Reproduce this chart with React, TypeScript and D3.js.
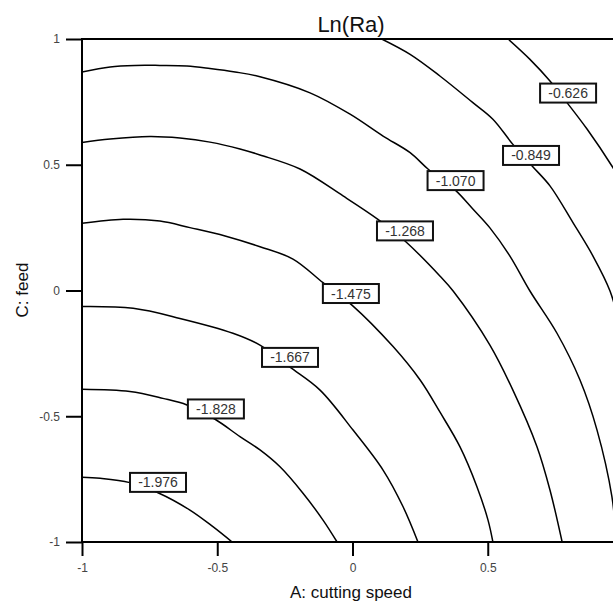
import React, { useRef, useEffect } from "react";
import * as d3 from "d3";

// Contour levels (Ln(Ra)) and their traced paths in data units [A: cutting speed, C: feed]
const levels = ["-1.976", "-1.828", "-1.667", "-1.475", "-1.268", "-1.070", "-0.849", "-0.626"];

const contour1976: [number, number][] = [
  [-1, -0.743], [-0.933, -0.747], [-0.823, -0.764], [-0.719, -0.804], [-0.601, -0.873], [-0.516, -0.939], [-0.445, -1.0],
];
const contour1828: [number, number][] = [
  [-1, -0.393], [-0.823, -0.402], [-0.701, -0.429], [-0.612, -0.455], [-0.508, -0.512], [-0.416, -0.581],
  [-0.342, -0.634], [-0.268, -0.701], [-0.183, -0.806], [-0.109, -0.913], [-0.057, -1.0],
];
const contour1667: [number, number][] = [
  [-1, -0.064], [-0.811, -0.071], [-0.638, -0.111], [-0.442, -0.17], [-0.342, -0.217], [-0.231, -0.305],
  [-0.12, -0.396], [0.002, -0.555], [0.113, -0.714], [0.187, -0.86], [0.242, -1.0],
];
const contour1475: [number, number][] = [
  [-1, 0.267], [-0.848, 0.283], [-0.712, 0.276], [-0.601, 0.25], [-0.471, 0.217], [-0.342, 0.174],
  [-0.22, 0.125], [-0.109, 0.031], [-0.002, -0.058], [0.15, -0.223], [0.25, -0.356], [0.323, -0.483],
  [0.397, -0.621], [0.46, -0.78], [0.501, -0.913], [0.519, -1.0],
];
const contour1268: [number, number][] = [
  [-1, 0.588], [-0.896, 0.602], [-0.749, 0.612], [-0.638, 0.606], [-0.527, 0.59], [-0.416, 0.563],
  [-0.342, 0.539], [-0.194, 0.483], [-0.035, 0.376], [0.094, 0.283], [0.194, 0.197], [0.323, 0.058],
  [0.372, -0.002], [0.508, -0.217], [0.593, -0.396], [0.682, -0.621], [0.73, -0.793], [0.775, -1.0],
];
const contour1070: [number, number][] = [
  [-1, 0.869], [-0.896, 0.889], [-0.804, 0.895], [-0.712, 0.895], [-0.612, 0.893], [-0.527, 0.883],
  [-0.434, 0.869], [-0.342, 0.85], [-0.157, 0.786], [-0.009, 0.701], [0.113, 0.614], [0.213, 0.548],
  [0.279, 0.483], [0.379, 0.4], [0.445, 0.324], [0.508, 0.249], [0.582, 0.137], [0.656, -0.002],
  [0.756, -0.17], [0.841, -0.356], [0.904, -0.555], [0.959, -0.82], [0.975, -1.0],
];
const contour0849: [number, number][] = [
  [0.108, 1.0], [0.213, 0.939], [0.323, 0.853], [0.445, 0.747], [0.519, 0.681], [0.593, 0.581],
  [0.664, 0.495], [0.73, 0.416], [0.815, 0.27], [0.889, 0.137], [0.952, -0.002], [0.99, -0.15],
];
const contour0626: [number, number][] = [
  [0.575, 1.0], [0.656, 0.919], [0.73, 0.833], [0.793, 0.747], [0.867, 0.642], [0.959, 0.495], [1.0, 0.42],
];
const contourPaths = [contour1976, contour1828, contour1667, contour1475, contour1268, contour1070, contour0849, contour0626];

// Label anchor positions (data units)
const labelA = [-0.719, -0.505, -0.231, -0.006, 0.194, 0.381, 0.66, 0.797];
const labelC = [-0.763, -0.471, -0.266, -0.012, 0.237, 0.437, 0.537, 0.785];

const xTicks = [-1, -0.5, 0, 0.5];
const yTicks = [-1, -0.5, 0, 0.5, 1];

const FONT = "'Liberation Sans', Arial, sans-serif";

export default function App() {
  const ref = useRef<SVGSVGElement>(null);

  useEffect(() => {
    const svg = d3.select(ref.current);
    svg.selectAll("*").remove();

    const x = d3.scaleLinear().domain([-1, 1]).range([82, 623]);
    const y = d3.scaleLinear().domain([-1, 1]).range([542, 39]);

    svg.append("rect").attr("width", 613).attr("height", 606).attr("fill", "white");

    const defs = svg.append("defs");
    defs.append("clipPath").attr("id", "plotclip").append("rect")
      .attr("x", x(-1)).attr("y", y(1)).attr("width", x(1) - x(-1)).attr("height", y(-1) - y(1));

    const line = d3.line<[number, number]>()
      .x((d) => x(d[0]))
      .y((d) => y(d[1]))
      .curve(d3.curveCatmullRom.alpha(0.5));

    const g = svg.append("g").attr("clip-path", "url(#plotclip)");
    contourPaths.forEach((pts) => {
      g.append("path").attr("d", line(pts)).attr("fill", "none").attr("stroke", "#000").attr("stroke-width", 1.5);
    });

    // labels
    levels.forEach((lv, i) => {
      const lg = svg.append("g").attr("transform", `translate(${x(labelA[i])},${y(labelC[i])})`);
      lg.append("rect").attr("x", -28).attr("y", -9.5).attr("width", 56).attr("height", 19)
        .attr("fill", "white").attr("stroke", "#111").attr("stroke-width", 2);
      lg.append("text").text(lv).attr("text-anchor", "middle").attr("dy", "0.36em")
        .attr("font-family", FONT).attr("font-size", 14).attr("fill", "#333");
    });

    // frame
    svg.append("rect").attr("x", x(-1)).attr("y", y(1)).attr("width", x(1) - x(-1)).attr("height", y(-1) - y(1))
      .attr("fill", "none").attr("stroke", "#000").attr("stroke-width", 2);

    const fmt = (d: d3.NumberValue) => String(d);

    const xa = svg.append("g").attr("transform", `translate(0,${y(-1)})`)
      .call(d3.axisBottom(x).tickValues(xTicks).tickSize(14).tickPadding(7).tickFormat(fmt));
    xa.select(".domain").remove();
    xa.selectAll("line").attr("stroke", "#000").attr("stroke-width", 2);
    xa.selectAll("text").attr("font-family", FONT).attr("font-size", 12).attr("fill", "#444");

    const ya = svg.append("g").attr("transform", `translate(${x(-1)},0)`)
      .call(d3.axisLeft(y).tickValues(yTicks).tickSize(16).tickPadding(6).tickFormat(fmt));
    ya.select(".domain").remove();
    ya.selectAll("line").attr("stroke", "#000").attr("stroke-width", 2);
    ya.selectAll("text").attr("font-family", FONT).attr("font-size", 12).attr("fill", "#444");

    svg.append("text").text("Ln(Ra)").attr("x", 351).attr("y", 32).attr("text-anchor", "middle")
      .attr("font-family", FONT).attr("font-size", 22).attr("fill", "#111");
    svg.append("text").text("A: cutting speed").attr("x", 351).attr("y", 598).attr("text-anchor", "middle")
      .attr("font-family", FONT).attr("font-size", 17).attr("fill", "#111");
    svg.append("text").text("C: feed").attr("transform", "translate(28,290) rotate(-90)").attr("text-anchor", "middle")
      .attr("font-family", FONT).attr("font-size", 17).attr("fill", "#111");
  }, []);

  return (
    <svg
      ref={ref}
      width={613}
      height={606}
      style={{ position: "absolute", left: 0, top: 0, display: "block" }}
    />
  );
}
